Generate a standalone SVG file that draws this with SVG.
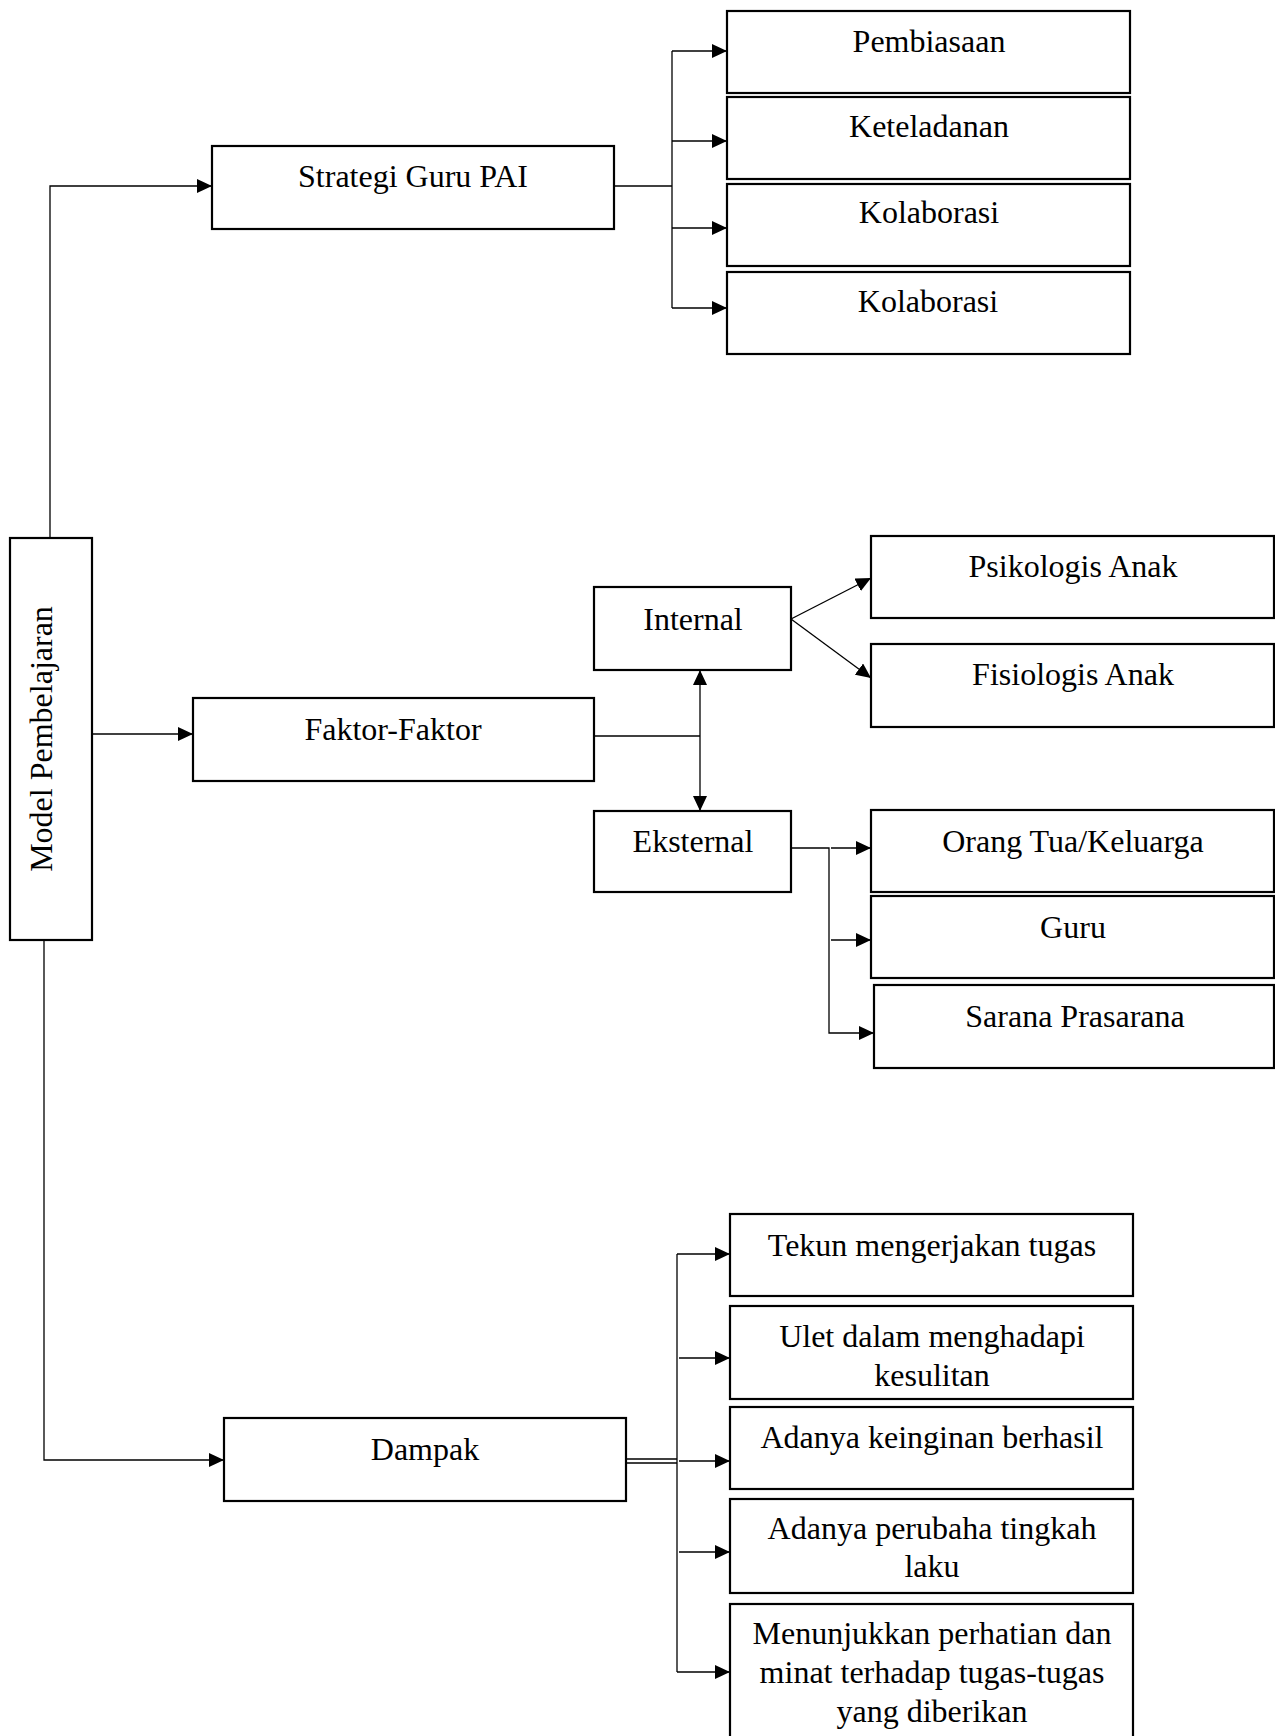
<svg xmlns="http://www.w3.org/2000/svg" width="1275" height="1736" viewBox="0 0 1275 1736">
<style>
.box{fill:#fff;stroke:#000;stroke-width:2.2}
.ln{fill:none;stroke:#000;stroke-width:1.3}
.t{font-family:"Liberation Serif","Times New Roman",serif;font-size:32px;fill:#000;text-anchor:middle}
</style>
<defs>
<marker id="ah" viewBox="0 0 15 14" refX="15" refY="7" markerWidth="15" markerHeight="14" markerUnits="userSpaceOnUse" orient="auto-start-reverse">
<path d="M0,0 L15,7 L0,14 z" fill="#000"/>
</marker>
</defs>
<rect width="1275" height="1736" fill="#fff"/>
<g id="connectors">
<path class="ln" d="M50,538 V186 H212" marker-end="url(#ah)"/>
<path class="ln" d="M614,186 H672"/>
<path class="ln" d="M672,51 V308"/>
<path class="ln" d="M672,51 H727" marker-end="url(#ah)"/>
<path class="ln" d="M672,141 H727" marker-end="url(#ah)"/>
<path class="ln" d="M672,228 H727" marker-end="url(#ah)"/>
<path class="ln" d="M672,308 H727" marker-end="url(#ah)"/>
<path class="ln" d="M92,734 H193" marker-end="url(#ah)"/>
<path class="ln" d="M594,736 H700"/>
<path class="ln" d="M700,670 V811" marker-start="url(#ah)" marker-end="url(#ah)"/>
<path class="ln" d="M791,619 L871,578" marker-end="url(#ah)"/>
<path class="ln" d="M791,619 L871,678" marker-end="url(#ah)"/>
<path class="ln" d="M789,848 H829 V1033 H874" marker-end="url(#ah)"/>
<path class="ln" d="M831,848 H871" marker-end="url(#ah)"/>
<path class="ln" d="M831,940 H871" marker-end="url(#ah)"/>
<path class="ln" d="M44,940 V1460 H224" marker-end="url(#ah)"/>
<path class="ln" d="M626,1459 H677 M626,1463 H677"/>
<path class="ln" d="M677,1254 V1672"/>
<path class="ln" d="M677,1254 H730" marker-end="url(#ah)"/>
<path class="ln" d="M679,1358 H730" marker-end="url(#ah)"/>
<path class="ln" d="M679,1461 H730" marker-end="url(#ah)"/>
<path class="ln" d="M679,1552 H730" marker-end="url(#ah)"/>
<path class="ln" d="M677,1672 H730" marker-end="url(#ah)"/>
</g>
<g id="model">
<rect class="box" x="10" y="538" width="82" height="402"/>
<text class="t" transform="translate(52,739) rotate(-90)">Model Pembelajaran</text>
</g>
<g id="strategi">
<rect class="box" x="212" y="146" width="402" height="83"/>
<text class="t" x="413" y="187">Strategi Guru PAI</text>
</g>
<g id="pembiasaan">
<rect class="box" x="727" y="11" width="403" height="82"/>
<text class="t" x="929" y="52">Pembiasaan</text>
</g>
<g id="keteladanan">
<rect class="box" x="727" y="97" width="403" height="82"/>
<text class="t" x="929" y="137">Keteladanan</text>
</g>
<g id="kolaborasi1">
<rect class="box" x="727" y="184" width="403" height="82"/>
<text class="t" x="929" y="223">Kolaborasi</text>
</g>
<g id="kolaborasi2">
<rect class="box" x="727" y="272" width="403" height="82"/>
<text class="t" x="928" y="312">Kolaborasi</text>
</g>
<g id="faktor">
<rect class="box" x="193" y="698" width="401" height="83"/>
<text class="t" x="393" y="740">Faktor-Faktor</text>
</g>
<g id="internal">
<rect class="box" x="594" y="587" width="197" height="83"/>
<text class="t" x="693" y="630">Internal</text>
</g>
<g id="eksternal">
<rect class="box" x="594" y="811" width="197" height="81"/>
<text class="t" x="693" y="852">Eksternal</text>
</g>
<g id="psikologis">
<rect class="box" x="871" y="536" width="403" height="82"/>
<text class="t" x="1073" y="577">Psikologis Anak</text>
</g>
<g id="fisiologis">
<rect class="box" x="871" y="644" width="403" height="83"/>
<text class="t" x="1073" y="685">Fisiologis Anak</text>
</g>
<g id="orangtua">
<rect class="box" x="871" y="810" width="403" height="82"/>
<text class="t" x="1073" y="852">Orang Tua/Keluarga</text>
</g>
<g id="guru">
<rect class="box" x="871" y="896" width="403" height="82"/>
<text class="t" x="1073" y="938">Guru</text>
</g>
<g id="sarana">
<rect class="box" x="874" y="985" width="400" height="83"/>
<text class="t" x="1075" y="1027">Sarana Prasarana</text>
</g>
<g id="dampak">
<rect class="box" x="224" y="1418" width="402" height="83"/>
<text class="t" x="425" y="1460">Dampak</text>
</g>
<g id="tekun">
<rect class="box" x="730" y="1214" width="403" height="82"/>
<text class="t" x="932" y="1256">Tekun mengerjakan tugas</text>
</g>
<g id="ulet">
<rect class="box" x="730" y="1306" width="403" height="93"/>
<text class="t" x="932" y="1347">Ulet dalam menghadapi</text>
<text class="t" x="932" y="1386">kesulitan</text>
</g>
<g id="keinginan">
<rect class="box" x="730" y="1407" width="403" height="82"/>
<text class="t" x="932" y="1448">Adanya keinginan berhasil</text>
</g>
<g id="perubahan">
<rect class="box" x="730" y="1499" width="403" height="94"/>
<text class="t" x="932" y="1539">Adanya perubaha tingkah</text>
<text class="t" x="932" y="1577">laku</text>
</g>
<g id="menunjukkan">
<rect class="box" x="730" y="1604" width="403" height="140"/>
<text class="t" x="932" y="1644">Menunjukkan perhatian dan</text>
<text class="t" x="932" y="1683">minat terhadap tugas-tugas</text>
<text class="t" x="932" y="1722">yang diberikan</text>
</g>
</svg>
